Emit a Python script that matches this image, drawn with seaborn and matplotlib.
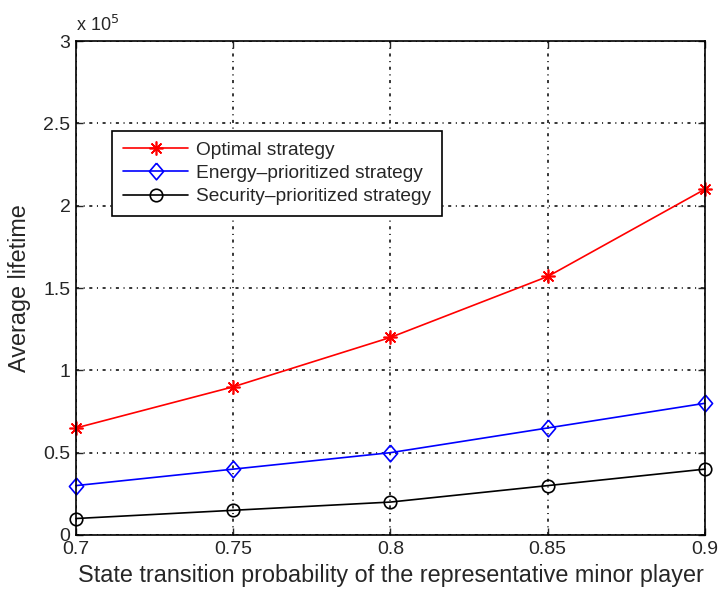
import numpy as np
import pandas as pd
import matplotlib
matplotlib.use("Agg")
import matplotlib.pyplot as plt
import seaborn as sns

# data (lifetime in raw units)
prob = [0.70, 0.75, 0.80, 0.85, 0.90]
optimal = [0.65e5, 0.90e5, 1.20e5, 1.57e5, 2.10e5]
energy = [0.30e5, 0.40e5, 0.50e5, 0.65e5, 0.80e5]
security = [0.10e5, 0.15e5, 0.20e5, 0.30e5, 0.40e5]
labels = ["Optimal strategy", "Energy\u2013prioritized strategy", "Security\u2013prioritized strategy"]
xticks = [0.7, 0.75, 0.8, 0.85, 0.9]
yticks = [0, 0.5e5, 1e5, 1.5e5, 2e5, 2.5e5, 3e5]

sns.set_style("ticks")
plt.rcParams["font.family"] = ["Liberation Sans", "DejaVu Sans"]

fig = plt.figure(figsize=(7.19, 5.92), dpi=100)
ax = fig.add_axes([0.1057, 0.0963, 0.8748, 0.8344])

# matlab-like diamond, a bit wider than mpl's thin diamond
diamond = [(0, 1), (0.85, 0), (0, -1), (-0.85, 0), (0, 1)]

series = [optimal, energy, security]
colors = ["#ff0000", "#0000ff", "#000000"]
markers = [(8, 2, 0), diamond, "o"]
sizes = [10, 12, 9]

handles = []
for vals, lab, col, mk, ms in zip(series, labels, colors, markers, sizes):
    df = pd.DataFrame({"p": prob, "life": vals})
    sns.lineplot(data=df, x="p", y="life", ax=ax, color=col, marker=mk,
                 markersize=ms, markerfacecolor="none", markeredgecolor=col,
                 markeredgewidth=1.2, linewidth=1.2, label=lab, legend=False,
                 clip_on=False, zorder=5)
    handles.append(ax.lines[-1])

ax.set_xlim(0.7, 0.9)
ax.set_ylim(0, 3e5)
ax.set_xticks(xticks)
ax.set_yticks(yticks)
ax.set_xticklabels([f"{t:g}" for t in xticks])
ax.set_yticklabels([f"{t / 1e5:g}" for t in yticks])
ax.tick_params(direction="in", top=True, right=True, length=5, width=1,
               labelsize=14, pad=4)
ax.grid(True, color="black", linestyle=(0, (2, 3, 0.7, 3)), linewidth=1.1)
for s in ax.spines.values():
    s.set_linewidth(1.2)
    s.set_color("black")
    s.set_zorder(6)

ax.set_xlabel("State transition probability of the representative minor player",
              fontsize=16.8, labelpad=5)
ax.set_ylabel("Average lifetime", fontsize=16.8, labelpad=9)
ax.text(0.0, 1.012, r"x 10$^5$", transform=ax.transAxes, fontsize=13,
        ha="left", va="bottom")

leg = ax.legend(handles=handles, labels=labels, loc="upper left",
                bbox_to_anchor=(0.058, 0.818), fontsize=13.8, frameon=True,
                fancybox=False, edgecolor="black", framealpha=1,
                borderpad=0.55, labelspacing=0.3, handlelength=3.4,
                handletextpad=0.4, borderaxespad=0)
leg.get_frame().set_linewidth(1.2)
leg.set_zorder(7)

fig.savefig("out.png", dpi=100)
